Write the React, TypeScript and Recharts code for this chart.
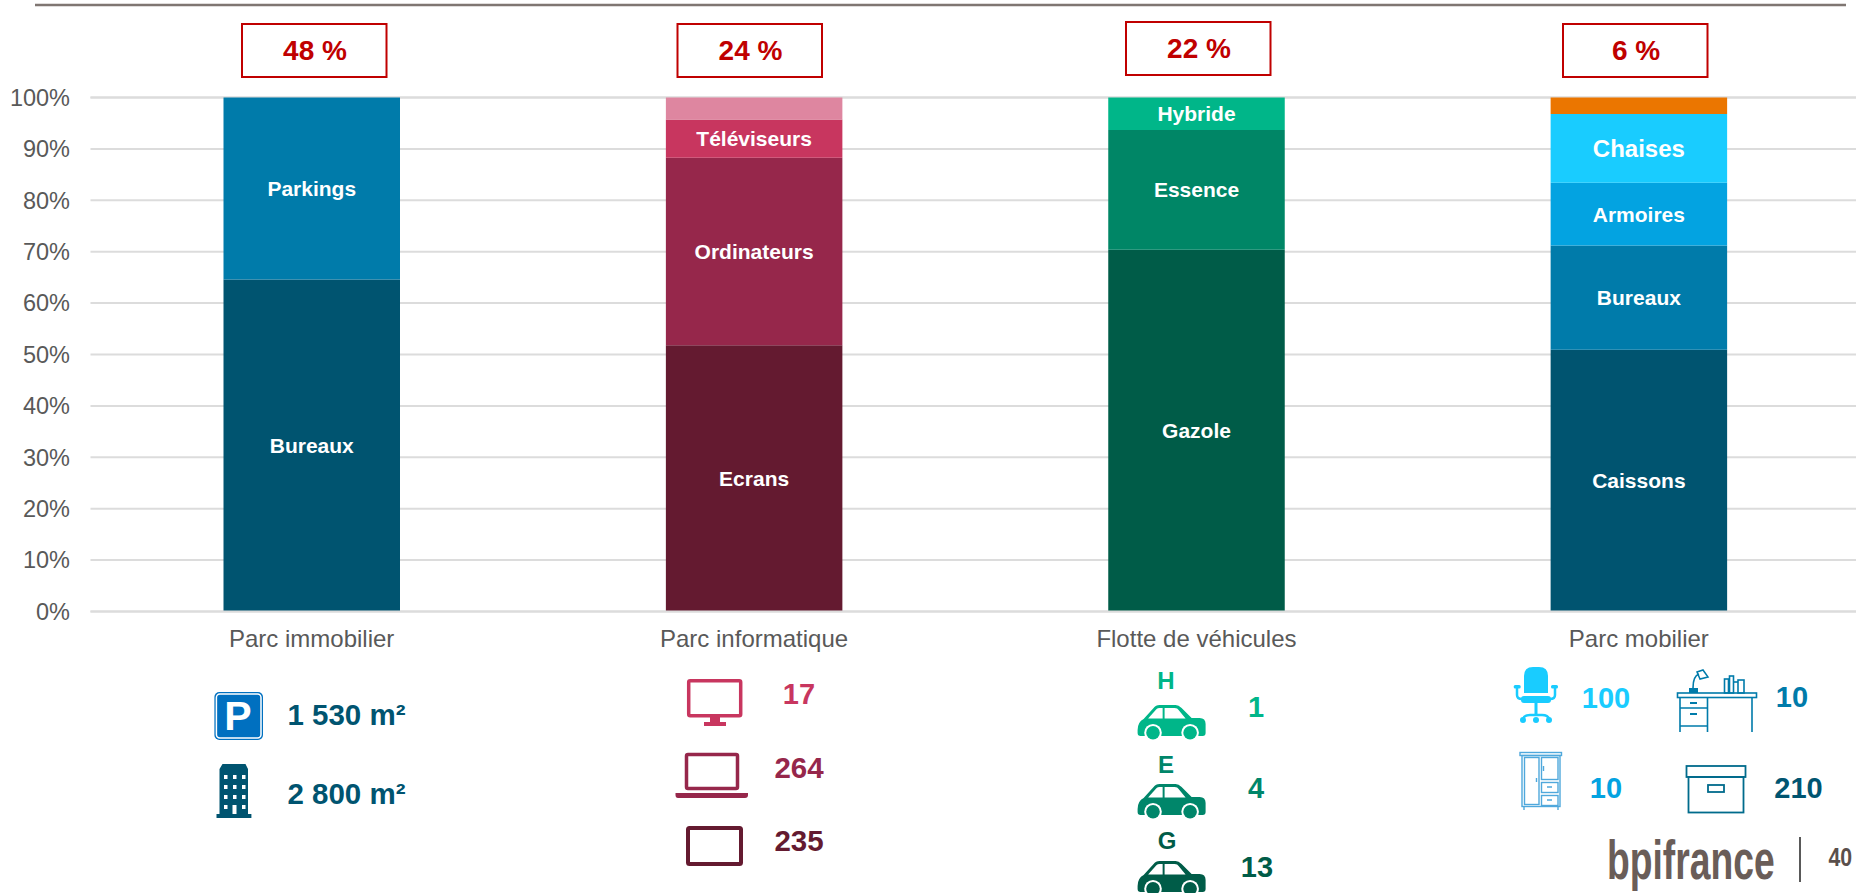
import React from "react";
import { BarChart, Bar, XAxis, YAxis, CartesianGrid, LabelList } from "recharts";

const categories = ["Parc immobilier", "Parc informatique", "Flotte de véhicules", "Parc mobilier"];
const yTicks = [0, 10, 20, 30, 40, 50, 60, 70, 80, 90, 100];

const immobilierBureaux = [64.6, null, null, null];
const immobilierParkings = [35.4, null, null, null];
const infoEcrans = [null, 51.8, null, null];
const infoOrdinateurs = [null, 36.5, null, null];
const infoTeleviseurs = [null, 7.4, null, null];
const infoAutres = [null, 4.3, null, null];
const flotteGazole = [null, null, 70.4, null];
const flotteEssence = [null, null, 23.3, null];
const flotteHybride = [null, null, 6.3, null];
const mobilierCaissons = [null, null, null, 50.9];
const mobilierBureaux = [null, null, null, 20.3];
const mobilierArmoires = [null, null, null, 12.2];
const mobilierChaises = [null, null, null, 13.4];
const mobilierAutres = [null, null, null, 3.2];

const series = [
  { key: "immoBureaux", label: "Bureaux", color: "#005470", size: 21, values: immobilierBureaux },
  { key: "immoParkings", label: "Parkings", color: "#007BAA", size: 21, values: immobilierParkings },
  { key: "ecrans", label: "Ecrans", color: "#641A30", size: 21, values: infoEcrans },
  { key: "ordinateurs", label: "Ordinateurs", color: "#96274B", size: 21, values: infoOrdinateurs },
  { key: "televiseurs", label: "Téléviseurs", color: "#C8365F", size: 21, values: infoTeleviseurs },
  { key: "infoAutres", label: "", color: "#DE86A0", size: 21, values: infoAutres },
  { key: "gazole", label: "Gazole", color: "#005C48", size: 21, values: flotteGazole },
  { key: "essence", label: "Essence", color: "#008666", size: 21, values: flotteEssence },
  { key: "hybride", label: "Hybride", color: "#00B689", size: 21, values: flotteHybride },
  { key: "caissons", label: "Caissons", color: "#005470", size: 21, values: mobilierCaissons },
  { key: "mobBureaux", label: "Bureaux", color: "#007BAA", size: 21, values: mobilierBureaux },
  { key: "armoires", label: "Armoires", color: "#03A3E1", size: 21, values: mobilierArmoires },
  { key: "chaises", label: "Chaises", color: "#19CCFF", size: 24, values: mobilierChaises },
  { key: "mobAutres", label: "", color: "#EB7600", size: 21, values: mobilierAutres },
];

const rows = categories.map((name, i) => {
  const row: Record<string, any> = { name };
  series.forEach((s) => {
    row[s.key] = s.values[i];
  });
  return row;
});

const FONT = "'Liberation Sans', Arial, sans-serif";

const shares = [
  { text: "48 %", x: 242, y: 24 },
  { text: "24 %", x: 677.5, y: 24 },
  { text: "22 %", x: 1126, y: 22 },
  { text: "6 %", x: 1563, y: 24 },
];

const figures = [
  { text: "1 530 m²", x: 346.5, y: 714, color: "#005470", size: 29.5 },
  { text: "2 800 m²", x: 346.5, y: 793, color: "#005470", size: 29.5 },
  { text: "17", x: 799, y: 694, color: "#C8365F", size: 29 },
  { text: "264", x: 799, y: 767.5, color: "#96274B", size: 29.5 },
  { text: "235", x: 799, y: 840.5, color: "#641A30", size: 29.5 },
  { text: "H", x: 1166, y: 680, color: "#00B689", size: 24 },
  { text: "E", x: 1166, y: 764, color: "#00866A", size: 24 },
  { text: "G", x: 1167, y: 840, color: "#005C48", size: 24 },
  { text: "1", x: 1256, y: 707, color: "#00B689", size: 29 },
  { text: "4", x: 1256, y: 788, color: "#00866A", size: 29 },
  { text: "13", x: 1257, y: 867, color: "#005C48", size: 29 },
  { text: "100", x: 1606, y: 698, color: "#19CCFF", size: 29 },
  { text: "10", x: 1792, y: 697, color: "#007BAA", size: 29 },
  { text: "10", x: 1606, y: 788, color: "#03A3E1", size: 29 },
  { text: "210", x: 1798.5, y: 787.5, color: "#005470", size: 29 },
];

const Car = ({ y, color }: { y: number; color: string }) => (
  <g transform={`translate(1137.6 ${y})`}>
    <path
      d="M0 25 Q0 17 6 14 L16 3 Q18 0 22 0 H38 Q41 0 44 3 L54 13 H62 Q68 13 68 19 V28 Q68 31 65 31 H3 Q0 31 0 28 Z"
      fill={color}
    />
    <path d="M10.5 13.5 L19 4 Q20 3 22 3 H25 V13.5 Z" fill="#fff" />
    <path d="M27 3 H37 Q40 3 41 5 L48 13.5 H27 Z" fill="#fff" />
    <circle cx={15.4} cy={27.7} r={8.8} fill="#fff" />
    <circle cx={52.5} cy={27.7} r={8.8} fill="#fff" />
    <circle cx={15.4} cy={27.7} r={6.8} fill={color} />
    <circle cx={52.5} cy={27.7} r={6.8} fill={color} />
  </g>
);

const Icons = () => (
  <>
    {/* Parking */}
    <rect x={214.4} y={692} width={48.6} height={48} rx={5} fill="#0070C0" />
    <rect x={216.4} y={694} width={44.6} height={44} rx={3.5} fill="none" stroke="#fff" strokeWidth={1.5} />
    <text x={238} y={730} textAnchor="middle" fontFamily={FONT} fontWeight="bold" fontSize={41} fill="#fff">P</text>
    {/* Building */}
    <path d="M222.5 764 H245.5 L248 769 V814 H251.4 V818 H216.5 V814 H219.5 V769 Z" fill="#005470" />
    {[777, 787, 797, 807].map((wy, r) =>
      [224, 233, 242].map((wx, c) =>
        r === 3 && c === 1 ? (
          <rect key={`${r}${c}`} x={wx - 0.5} y={805} width={4} height={9} fill="#fff" />
        ) : (
          <rect key={`${r}${c}`} x={wx} y={wy - 2} width={3.5} height={4} fill="#fff" />
        )
      )
    )}
    {/* Monitor */}
    <rect x={688.7} y={680.7} width={52} height={35} rx={1.5} fill="none" stroke="#C8365F" strokeWidth={3.5} />
    <rect x={710} y={717} width={10} height={6} fill="#C8365F" />
    <rect x={704} y={722} width={22} height={4} fill="#C8365F" />
    {/* Laptop */}
    <rect x={686.5} y={754.5} width={51} height={34} rx={1.5} fill="none" stroke="#96274B" strokeWidth={3.5} />
    <path d="M675.5 793 H748 V795 Q748 798 745 798 H678 Q675.5 798 675.5 795 Z" fill="#96274B" />
    {/* Tablet */}
    <rect x={688} y={828} width={53} height={36} rx={1.5} fill="none" stroke="#641A30" strokeWidth={4} />
    {/* Cars */}
    <Car y={705} color="#00B689" />
    <Car y={784} color="#00866A" />
    <Car y={861} color="#005C48" />
    {/* Chair */}
    <g fill="#19CCFF">
      <path d="M1524 693 V676 Q1524 667 1533 667 H1539 Q1548 667 1548 676 V693 Z" />
      <rect x={1521} y={696} width={30} height={7} rx={3} />
      <rect x={1513.7} y={685} width={7} height={3.5} rx={1.5} />
      <rect x={1551} y={685} width={7} height={3.5} rx={1.5} />
      <rect x={1534.5} y={703} width={3} height={13} />
      <circle cx={1523} cy={720} r={3} />
      <circle cx={1536} cy={720} r={3} />
      <circle cx={1549} cy={720} r={3} />
    </g>
    <g fill="none" stroke="#19CCFF" strokeWidth={2.5}>
      <path d="M1517 687 V695 Q1517 699 1522 699" />
      <path d="M1555 687 V695 Q1555 699 1550 699" />
      <path d="M1523 719 Q1524 715 1530 715 H1542 Q1548 715 1549 719" />
    </g>
    {/* Desk */}
    <g fill="none" stroke="#007BAA" strokeWidth={1.6}>
      <rect x={1677.5} y={693} width={79} height={4.5} />
      <path d="M1680 698 V732 M1707.5 698 V732 M1752 698 V732" />
      <path d="M1680 708 H1707.5 M1680 726 H1707.5" />
      <path d="M1693 688 Q1693 676 1699 674" />
      <rect x={1724.5} y={679} width={4} height={14} />
      <rect x={1729.5} y={676} width={4} height={17} />
      <rect x={1738} y={680} width={6} height={13} />
      <path d="M1734 682 H1738" />
    </g>
    <rect x={1689} y={688} width={9} height={5} fill="#007BAA" />
    <path d="M1697 672 L1703 670 L1708 677 L1700 679 Z" fill="none" stroke="#007BAA" strokeWidth={1.5} />
    <rect x={1690} y={702} width={7} height={2} fill="#007BAA" />
    <rect x={1690} y={713} width={7} height={2} fill="#007BAA" />
    {/* Wardrobe */}
    <g fill="none" stroke="#4FA8DC" strokeWidth={1.4}>
      <rect x={1520} y={752.5} width={41.5} height={3} />
      <rect x={1522} y={755.5} width={38} height={51} />
      <rect x={1524.5} y={757.5} width={14.5} height={47} />
      <rect x={1541.5} y={757.5} width={16.5} height={22} />
      <rect x={1541.5} y={782.5} width={16.5} height={10} />
      <rect x={1541.5} y={795.5} width={16.5} height={10} />
      <path d="M1536.5 778 V782 M1543.5 766 V771 M1547 787 H1552 M1547 800 H1552" />
      <path d="M1524 807 V810 M1558 807 V810" />
    </g>
    {/* Archive box */}
    <g fill="none" stroke="#006B8C" strokeWidth={1.8}>
      <rect x={1686.5} y={766} width={59} height={11} />
      <rect x={1688.5} y={777} width={55} height={35.5} />
      <rect x={1708} y={785} width={16} height={7} />
    </g>
  </>
);

const BarLabel = (props: any) => {
  const { x, y, width, height, value, fontSize, label } = props;
  if (value == null || !label) return null;
  return (
    <text
      x={x + width / 2}
      y={y + height / 2}
      textAnchor="middle"
      dominantBaseline="central"
      fill="#fff"
      fontFamily={FONT}
      fontWeight="bold"
      fontSize={fontSize}
    >
      {label}
    </text>
  );
};

export default function App() {
  return (
    <div style={{ position: "fixed", left: 0, top: 0, width: 1856, height: 893, overflow: "hidden", background: "#fff" }}>
      <BarChart
        width={1860}
        height={893}
        data={rows}
        margin={{ top: 97.5, right: 0, bottom: 0, left: 0 }}
        barCategoryGap={0}
        style={{ position: "absolute", left: 0, top: 0 }}
      >
        <CartesianGrid vertical={false} stroke="#DCDCDC" strokeWidth={2} />
        <XAxis
          dataKey="name"
          height={281.5}
          axisLine={{ stroke: "#DCDCDC", strokeWidth: 2 }}
          tickLine={false}
          tickMargin={12}
          tick={{ fill: "#595959", fontSize: 24, fontFamily: FONT }}
          interval={0}
        />
        <YAxis
          width={90.5}
          domain={[0, 100]}
          ticks={yTicks}
          tickFormatter={(v: number) => `${v}%`}
          axisLine={false}
          tickLine={false}
          tickMargin={14.5}
          tick={{ fill: "#595959", fontSize: 23.5, fontFamily: FONT }}
          interval={0}
        />
        {series.map((s) => (
          <Bar key={s.key} dataKey={s.key} stackId="a" fill={s.color} barSize={176.5} isAnimationActive={false}>
            <LabelList
              dataKey={s.key}
              content={(p: any) => <BarLabel {...p} fontSize={s.size} label={s.label} />}
            />
          </Bar>
        ))}
      </BarChart>
      <svg width={1856} height={893} style={{ position: "absolute", left: 0, top: 0, pointerEvents: "none" }}>
        <line x1={35} x2={1846} y1={5} y2={5} stroke="#7F7672" strokeWidth={2.5} />
        {shares.map((s) => (
          <g key={s.text}>
            <rect x={s.x} y={s.y} width={144.5} height={53} fill="#fff" stroke="#C00000" strokeWidth={2} />
            <text
              x={s.x + 73}
              y={s.y + 26.5}
              textAnchor="middle"
              dominantBaseline="central"
              fontFamily={FONT}
              fontWeight="bold"
              fontSize={28}
              fill="#C00000"
            >
              {s.text}
            </text>
          </g>
        ))}
        <Icons />
        {figures.map((f) => (
          <text
            key={`${f.text}-${f.x}-${f.y}`}
            x={f.x}
            y={f.y}
            textAnchor="middle"
            dominantBaseline="central"
            fontFamily={FONT}
            fontWeight="bold"
            fontSize={f.size}
            fill={f.color}
          >
            {f.text}
          </text>
        ))}
        <text
          transform="translate(1607 879) scale(0.655 1)"
          fontFamily={FONT}
          fontWeight="bold"
          fontSize={55}
          fill="#6A5D58"
          textLength={256}
          lengthAdjust="spacingAndGlyphs"
        >
          bpifrance
        </text>
        <line x1={1800} x2={1800} y1={837} y2={882} stroke="#222" strokeWidth={1.5} />
        <text
          transform="translate(1828.5 866) scale(0.85 1)"
          fontFamily={FONT}
          fontWeight="bold"
          fontSize={25}
          fill="#5A4F4B"
        >
          40
        </text>
      </svg>
    </div>
  );
}
